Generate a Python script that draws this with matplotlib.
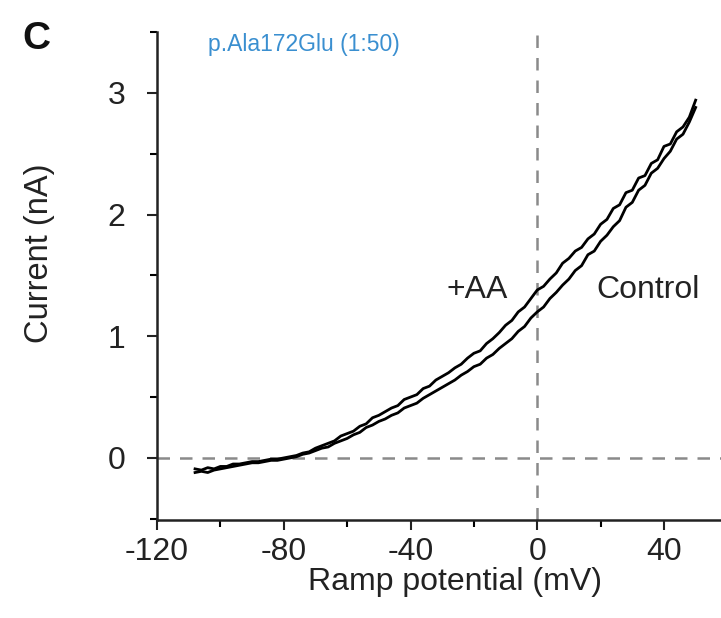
import numpy as np
import matplotlib.pyplot as plt
from matplotlib.ticker import MultipleLocator

plt.rcParams['font.family'] = ['Liberation Sans', 'DejaVu Sans']
plt.rcParams['axes.unicode_minus'] = False

# ramp potential samples (mV)
ramp_mv = np.arange(-108, 51, 2)

# +AA trace (nA)
current_aa = [
    -0.09, -0.10, -0.08, -0.09, -0.07, -0.07, -0.05, -0.05, -0.04, -0.03,
    -0.03, -0.02, -0.01, -0.01, 0.00,
    0.01, 0.02, 0.04, 0.05, 0.08, 0.10, 0.12, 0.14, 0.18, 0.20,
    0.22, 0.26, 0.28, 0.33, 0.35, 0.38, 0.41, 0.43, 0.48, 0.50,
    0.52, 0.57, 0.59, 0.64, 0.67, 0.70, 0.74, 0.77, 0.82, 0.86,
    0.88, 0.94, 0.98, 1.03, 1.09, 1.13, 1.20, 1.24, 1.31, 1.38,
    1.41, 1.47, 1.52, 1.60, 1.64, 1.70, 1.73, 1.80, 1.84, 1.92,
    1.96, 2.05, 2.08, 2.18, 2.20, 2.30, 2.32, 2.42, 2.45, 2.56,
    2.58, 2.68, 2.72, 2.80, 2.94,
]

# Control trace (nA)
current_ctrl = [
    -0.12, -0.11, -0.12, -0.10, -0.09, -0.08, -0.07, -0.06, -0.05, -0.04,
    -0.04, -0.03, -0.02, -0.02, -0.01,
    0.00, 0.01, 0.03, 0.04, 0.06, 0.08, 0.09, 0.12, 0.14, 0.16,
    0.19, 0.21, 0.25, 0.27, 0.30, 0.32, 0.35, 0.37, 0.41, 0.43,
    0.45, 0.49, 0.52, 0.55, 0.58, 0.61, 0.64, 0.68, 0.71, 0.75,
    0.77, 0.82, 0.85, 0.90, 0.94, 0.98, 1.04, 1.08, 1.15, 1.20,
    1.24, 1.31, 1.36, 1.42, 1.47, 1.54, 1.58, 1.67, 1.70, 1.78,
    1.83, 1.90, 1.95, 2.06, 2.10, 2.20, 2.24, 2.34, 2.38, 2.46,
    2.52, 2.62, 2.66, 2.76, 2.88,
]

x_ticks = [-120, -80, -40, 0, 40]
y_ticks = [0, 1, 2, 3]

fig = plt.figure(figsize=(7.21, 6.18), dpi=100)
ax = fig.add_axes([0.2178, 0.1586, 0.7822, 0.7896])

# reference lines at 0 mV and 0 nA
ax.axhline(0, color='#8a8a8a', lw=1.8, ls=(0, (5, 4)), zorder=1)
ax.axvline(0, color='#8a8a8a', lw=1.8, ls=(0, (5, 4)), zorder=1)

ax.plot(ramp_mv, current_aa, color='black', lw=2.0, zorder=3)
ax.plot(ramp_mv, current_ctrl, color='black', lw=2.0, zorder=3)

ax.set_xlim(-120, 58)
ax.set_ylim(-0.51, 3.5)

ax.set_xticks(x_ticks)
ax.set_yticks(y_ticks)
ax.xaxis.set_minor_locator(MultipleLocator(20))
ax.yaxis.set_minor_locator(MultipleLocator(0.5))
ax.tick_params(axis='both', which='major', length=7, width=1.5,
               labelsize=23, colors='#222222')
ax.tick_params(axis='x', which='major', pad=5)
ax.tick_params(axis='y', which='major', pad=16)
ax.tick_params(axis='both', which='minor', length=5, width=1.5)

for side in ['top', 'right']:
    ax.spines[side].set_visible(False)
for side in ['left', 'bottom']:
    ax.spines[side].set_linewidth(1.8)
    ax.spines[side].set_color('#222222')

ax.set_xlabel('Ramp potential (mV)', fontsize=23, color='#222222')
ax.set_ylabel('Current (nA)', fontsize=23.5, color='#222222')
ax.xaxis.set_label_coords(0.528, -0.096)
ax.yaxis.set_label_coords(-0.181, 0.546)

ax.text(-19, 1.38, '+AA', fontsize=23, color='#222222', ha='center', va='center')
ax.text(35, 1.38, 'Control', fontsize=23, color='#222222',
        ha='center', va='center')
ax.text(-104, 3.4, 'p.Ala172Glu (1:50)', fontsize=16.5, color='#3a8fd0',
        ha='left', va='center')
fig.text(0.05, 0.937, 'C', fontsize=28, fontweight='bold', ha='center',
         va='center', color='#111111')

fig.savefig('out.png', dpi=100)
